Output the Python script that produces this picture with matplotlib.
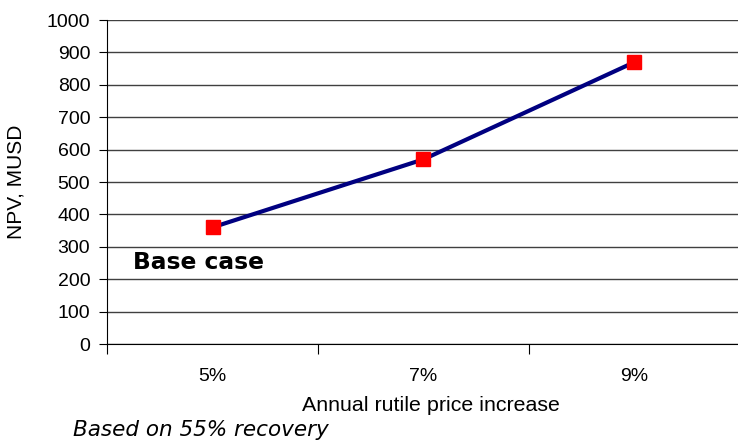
import numpy as np
import matplotlib.pyplot as plt

plt.rcParams['font.family'] = ['Liberation Sans', 'DejaVu Sans']

# データ
categories = ['5%', '7%', '9%']
npv = [360, 570, 870]
yticks = [0, 100, 200, 300, 400, 500, 600, 700, 800, 900, 1000]

fig = plt.figure(figsize=(7.38, 4.40), dpi=100)
ax = fig.add_axes([107/738, 1 - 344/440, 633/738, 324/440])

x = np.arange(len(categories))
ax.plot(x, npv, color='#000080', lw=3, marker='s', ms=10,
        markerfacecolor='red', markeredgecolor='red', zorder=3)

ax.set_xlim(-0.5, 2.5)
ax.set_ylim(0, 1000)
ax.set_yticks(yticks)
ax.yaxis.grid(True, color='#404040', lw=1)
ax.set_axisbelow(True)

# カテゴリ軸：目盛りは区切り位置、ラベルは中央
ax.set_xticks(np.arange(-0.5, 3.0, 1.0))
ax.set_xticklabels([])
ax.set_xticks(x, minor=True)
ax.set_xticklabels(categories, minor=True)
ax.tick_params(axis='x', which='major', length=7, direction='out', color='black')
ax.tick_params(axis='x', which='minor', length=0, pad=17, labelsize=14)
ax.tick_params(axis='y', length=6, direction='out', pad=6, labelsize=14)

for s in ['top', 'right']:
    ax.spines[s].set_visible(False)
ax.spines['left'].set_color('black')
ax.spines['bottom'].set_color('black')

ax.set_ylabel('NPV, MUSD', fontsize=15)
ax.yaxis.set_label_coords((25 - 107) / 633, 0.5)
ax.set_xlabel('Annual rutile price increase', fontsize=15.4, va='center')
ax.xaxis.set_label_coords((431 - 107) / 633, (344 - 405) / 324)

ax.text(-0.377, 253, 'Base case', fontsize=16.8, fontweight='bold', family='DejaVu Sans',
        ha='left', va='center')
fig.text(73/738, 1 - 430/440, 'Based on 55% recovery', fontsize=15.5, style='italic',
         family='DejaVu Sans', ha='left', va='center')

plt.savefig('out.png', dpi=100)
